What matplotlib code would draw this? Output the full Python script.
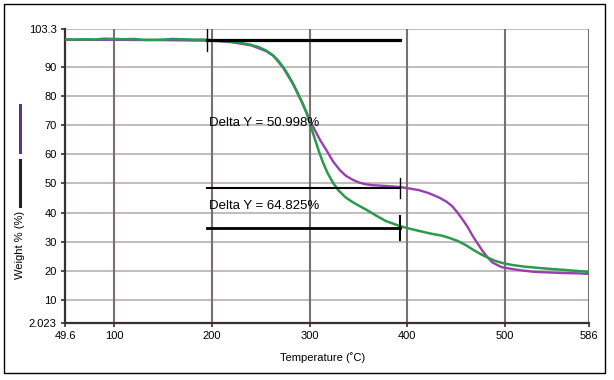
import matplotlib
matplotlib.use("Agg")
import matplotlib.pyplot as plt
from matplotlib.lines import Line2D
from matplotlib.patches import Rectangle

plt.rcParams['font.family'] = ['Liberation Sans', 'DejaVu Sans']

# green trace (sample 1)
green_t = [49.6, 60, 70, 80, 90, 100, 110, 120, 130, 140, 150, 160, 170, 180, 190,
           200, 210, 220, 230, 240, 248, 255, 262, 268, 273, 278, 283, 288, 293, 297,
           300, 303, 306, 310, 314, 318, 324, 330, 337, 345, 358, 368, 378, 392, 402,
           412, 425, 435, 443, 452, 460, 468, 477, 484, 490, 498, 507, 520, 540, 560, 586]
green_w = [99.6, 99.5, 99.6, 99.5, 99.8, 99.7, 99.6, 99.7, 99.4, 99.4, 99.5, 99.7, 99.6, 99.5, 99.5,
           99.3, 99.1, 98.8, 98.3, 97.7, 96.9, 95.8, 94.2, 92.2, 90.0, 87.4, 84.4, 81.0, 77.4, 74.2,
           71.0, 67.8, 64.7, 60.6, 57.0, 53.9, 50.2, 47.5, 45.2, 43.4, 41.0, 39.0, 37.1, 35.4, 34.5,
           33.7, 32.7, 32.1, 31.3, 30.2, 28.8, 27.1, 25.4, 24.3, 23.4, 22.6, 22.0, 21.4, 20.8, 20.3, 19.6]

# purple trace (sample 2)
purple_t = [49.6, 100, 150, 200, 220, 240, 255, 263, 273, 283, 293, 300, 305, 311, 317,
            324, 331, 337, 344, 351, 358, 365, 371, 380, 392, 402, 412, 422, 433, 440,
            446, 451, 456.5, 462, 467, 472, 477, 482, 487, 492, 497, 504, 511, 520, 530,
            545, 560, 575, 586]
purple_w = [99.4, 99.4, 99.3, 99.1, 98.6, 97.5, 95.6, 93.9, 89.8, 84.2, 77.4, 72.0, 68.6, 64.8, 61.6,
            57.6, 54.6, 52.7, 51.3, 50.3, 49.7, 49.4, 49.3, 49.1, 48.8, 48.3, 47.7, 46.7, 45.1, 43.8,
            42.2, 40.2, 37.7, 35.0, 32.0, 29.4, 26.9, 24.7, 22.9, 22.0, 21.2, 20.8, 20.4, 20.0, 19.6,
            19.4, 19.2, 19.1, 18.9]

# delta Y measurement
delta_start_t = 195
delta_end_t = 393
delta_top = 99.5
delta_1 = 50.998
delta_2 = 64.825

x_ticks = [49.6, 100, 200, 300, 400, 500, 586]
x_labels = ['49.6', '100', '200', '300', '400', '500', '586']
y_ticks = [2.023, 10, 20, 30, 40, 50, 60, 70, 80, 90, 103.3]
y_labels = ['2.023', '10', '20', '30', '40', '50', '60', '70', '80', '90', '103.3']

fig = plt.figure(figsize=(6.14, 3.8), dpi=100)
ax = fig.add_axes([0.106, 0.15, 0.853, 0.775])

ax.set_xlim(49.6, 586)
ax.set_ylim(2.023, 103.3)

# grid
for t in [100, 200, 300, 400, 500, 586]:
    ax.axvline(t, color='#7a7070', lw=1.5, zorder=1)
for w in [10, 20, 30, 40, 50, 60, 70, 80, 90, 103.3]:
    ax.axhline(w, color='#b8b0b0', lw=1.2, zorder=0.9)

ax.plot(purple_t, purple_w, color='#9a3fae', lw=1.7, zorder=3)
ax.plot(green_t, green_w, color='#2a9a4c', lw=1.8, zorder=4)

y1 = delta_top - delta_1
y2 = delta_top - delta_2
ax.plot([delta_start_t, delta_end_t], [delta_top, delta_top], color='black', lw=2.3, zorder=5)
ax.plot([delta_start_t, delta_start_t], [delta_top - 4, delta_top + 4], color='black', lw=1.0, zorder=5)
ax.plot([delta_start_t, delta_end_t], [y1, y1], color='black', lw=1.5, zorder=5)
ax.plot([delta_end_t, delta_end_t], [y1 - 3.5, y1 + 3.5], color='black', lw=1.0, zorder=5)
ax.plot([delta_start_t, delta_end_t], [y2, y2], color='black', lw=2.0, zorder=5)
ax.plot([delta_end_t, delta_end_t], [y2 - 4, y2 + 4], color='black', lw=1.5, zorder=5)

ax.text(197, 70.8, 'Delta Y = 50.998%', fontsize=9.5, va='center', ha='left', zorder=6)
ax.text(197, 42.4, 'Delta Y = 64.825%', fontsize=9.5, va='center', ha='left', zorder=6)

ax.set_xticks(x_ticks)
ax.set_xticklabels(x_labels)
ax.set_yticks(y_ticks)
ax.set_yticklabels(y_labels)
ax.tick_params(direction='out', length=3, width=1.2, color='#3a3030', labelsize=8, pad=3)

for s in ['top', 'right']:
    ax.spines[s].set_visible(False)
for s in ['left', 'bottom']:
    ax.spines[s].set_color('#3a3030')
    ax.spines[s].set_linewidth(1.6)

fig.text(0.525, 0.06, 'Temperature (\u02daC)', fontsize=8, ha='center', va='center')
fig.text(0.033, 0.355, 'Weight % (%)', fontsize=8, rotation=90, ha='center', va='center')

# legend bars on the left
fig.add_artist(Line2D([0.033, 0.033], [1 - 105 / 380, 1 - 152 / 380], color='#5a3580', lw=2.2))
fig.add_artist(Line2D([0.033, 0.033], [1 - 160 / 380, 1 - 206 / 380], color='#222222', lw=2.2))

# outer frame
fig.add_artist(Rectangle((4 / 614, 1 - 373 / 380), 601 / 614, 369 / 380,
                         fill=False, edgecolor='black', lw=1.0, transform=fig.transFigure))

fig.savefig('out.png', dpi=100)
